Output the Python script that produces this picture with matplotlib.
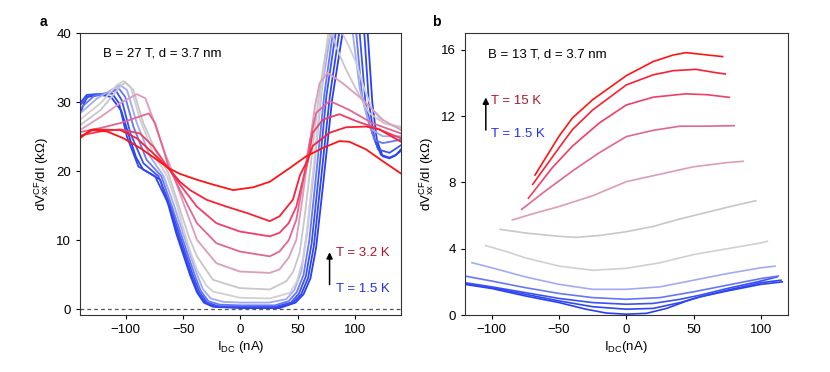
import numpy as np
import matplotlib
matplotlib.use("Agg")
import matplotlib.pyplot as plt

plt.rcParams['font.family'] = ['Liberation Sans', 'DejaVu Sans']
plt.rcParams['mathtext.fontset'] = 'custom'
plt.rcParams['mathtext.rm'] = 'Liberation Sans'
plt.rcParams['mathtext.it'] = 'Liberation Sans:italic'

# ---- panel a: B = 27 T, curves from T = 1.5 K (a0) to T = 3.2 K (a11)
a0_x = [-140, -134, -122, -113, -104, -97, -91, -85, -76, -70, -63, -56, -50, -44, -38, -32, -24, 0,
        34, 48, 55, 61, 66, 72, 80, 89, 96, 105, 111, 115, 119, 124, 130, 135, 140]
a0_y = [28.4, 30.8, 31.1, 30.8, 28.8, 25.0, 22.0, 20.3, 19.4, 18.8, 15.2, 11.0, 8.0, 5.0, 2.5, 1.0, 0.4, 0.2,
        0.2, 1.0, 2.2, 4.5, 9.0, 18.0, 30.5, 40.0, 48, 48, 40.0, 30.0, 24.5, 22.2, 21.9, 22.3, 23.0]
a1_x = [-140, -134, -119.5, -112, -106, -99, -89, -74.5, -62, -55, -49, -43, -37, -30, -22, 0,
        32, 46, 53, 59, 64, 70, 78, 86, 93, 102, 108, 112, 117, 122.6, 130, 135.6, 140]
a1_y = [29.9, 31.1, 31.2, 31.3, 29.9, 25.0, 20.7, 19.3, 15.0, 11.0, 8.0, 5.0, 2.4, 0.9, 0.4, 0.3,
        0.3, 1.0, 2.2, 4.6, 9.2, 18.5, 31.0, 40.0, 48, 48, 40.0, 30.0, 24.6, 22.4, 22.0, 22.4, 23.2]
a2_x = [-140, -131, -116.5, -109, -103.5, -96, -84.7, -71.6, -61, -54, -48, -42, -36, -29, -20, 0,
        30, 44, 51, 57, 62, 68, 75, 83, 90, 98, 104, 109, 115, 120, 130, 140]
a2_y = [29.6, 31.1, 31.3, 31.8, 30.3, 25.5, 21.2, 19.3, 15.0, 11.2, 8.2, 5.2, 2.6, 1.0, 0.5, 0.4,
        0.4, 1.0, 2.3, 4.8, 9.5, 19.0, 31.0, 40.0, 48, 48, 40.0, 30.0, 25.6, 23.2, 22.7, 23.8]
a3_x = [-140, -128, -113.7, -106, -100.6, -93.4, -82, -69, -60, -53, -47, -41, -35, -28, -18, 0,
        30, 42, 49, 55, 60, 66, 73, 80.5, 88, 95, 101, 106, 112, 117, 124, 140]
a3_y = [29.1, 30.9, 31.5, 32.0, 30.8, 26.5, 21.7, 19.3, 15.0, 11.5, 8.5, 5.5, 2.8, 1.2, 0.7, 0.6,
        0.6, 1.2, 2.5, 5.0, 10.0, 19.5, 31.0, 40.0, 48, 47, 40.0, 31.0, 27.0, 24.6, 24.1, 24.6]
a4_x = [-140, -125, -110.7, -105, -99, -90.4, -79, -67, -58.6, -52, -46, -40, -33, -26, -15, 0,
        25, 40, 47, 53, 58, 64, 71, 78.5, 85, 92, 98, 104, 109.5, 115, 124, 140]
a4_y = [28.4, 30.6, 32.0, 32.5, 31.8, 27.0, 22.2, 19.3, 15.4, 12.0, 9.0, 6.0, 3.0, 1.6, 1.1, 1.0,
        1.0, 1.5, 2.8, 5.5, 11.0, 20.0, 32.0, 40.0, 46, 45, 40.0, 32.0, 28.5, 26.0, 25.1, 25.1]
a5_x = [-140, -122, -108, -102, -96, -87.6, -76, -64, -55.6, -50, -44, -38, -30, -24, -0.6,
        25.5, 43, 49, 54.4, 58, 64, 70, 76, 82, 89, 95, 101, 108, 115, 125, 140]
a5_y = [27.5, 29.9, 32.5, 33.1, 32.3, 27.5, 22.6, 19.3, 15.2, 11.8, 8.5, 5.8, 3.5, 2.6, 1.7,
        1.6, 2.4, 4.0, 7.2, 11.5, 21.0, 31.0, 39.5, 44.0, 40.0, 38.0, 35.7, 32.0, 29.0, 27.0, 26.5]
a6_x = [-140, -122, -105, -100.6, -93.4, -84.7, -73, -63, -52.8, -45, -38, -24, -0.6,
        25.5, 40, 46, 51.6, 56, 62, 68, 74, 79, 83.5, 90, 98, 112, 125, 140]
a6_y = [26.7, 28.9, 32.3, 32.9, 31.8, 27.0, 22.6, 19.75, 14.5, 10.5, 7.7, 4.3, 3.1,
        2.9, 4.1, 5.5, 8.2, 13.5, 22.0, 30.5, 37.0, 40.5, 38.1, 35.5, 32.8, 28.5, 27.0, 26.3]
a7_x = [-140, -122, -105, -90.4, -83, -76, -67, -60, -50, -38, -21, -0.6,
        25.5, 34, 42, 48.7, 54, 60, 65, 69, 76, 89, 106.6, 124, 140]
a7_y = [26.0, 27.9, 29.9, 31.2, 30.6, 27.5, 23.1, 20.2, 15.5, 10.1, 6.7, 5.5,
        5.3, 5.8, 7.5, 10.1, 16.0, 23.5, 29.5, 32.8, 34.3, 32.8, 30.4, 27.5, 26.0]
a8_x = [-140, -122, -105, -89, -80, -74.5, -67, -63, -52.8, -38, -21, -0.6,
        25.5, 34, 42, 48.7, 54, 60, 66, 77.7, 86, 95, 115, 140]
a8_y = [25.7, 26.3, 27.0, 27.9, 28.4, 27.0, 23.1, 20.8, 17.3, 12.5, 9.6, 8.4,
        7.7, 8.4, 10.0, 13.0, 18.0, 24.0, 28.5, 30.2, 29.6, 28.9, 27.0, 25.5]
a9_x = [-140, -122, -105, -87.6, -76, -63, -52.8, -38, -21, -0.6,
        25.5, 34, 42, 48.7, 54, 58.8, 63, 71.8, 86.3, 100.9, 118, 140]
a9_y = [25.2, 25.8, 26.1, 25.5, 23.6, 20.5, 18.1, 14.9, 12.5, 11.3,
        10.6, 11.1, 12.5, 14.9, 18.5, 21.5, 25.6, 27.5, 28.3, 27.3, 26.3, 24.8]
a10_x = [-140, -128, -105, -90.4, -76, -63, -52.8, -44, -29.6, -12.2, 5.2,
         25.5, 34, 45.7, 52, 58.8, 63, 77.7, 92, 109.5, 121, 140]
a10_y = [25.0, 26.1, 26.0, 24.8, 22.6, 20.5, 18.5, 17.3, 15.9, 14.9, 14.0,
         12.8, 13.5, 15.9, 19.5, 21.7, 23.7, 25.6, 26.4, 26.5, 26.1, 24.3]
a11_x = [-140, -131, -116.5, -102, -87.6, -73, -63, -52.8, -38, -24, -6.4,
         11, 25.5, 43, 57.4, 71.8, 86.3, 95, 109.5, 124, 140]
a11_y = [24.8, 26.0, 25.8, 24.8, 23.4, 21.7, 20.5, 19.65, 18.8, 18.1, 17.3,
         17.7, 18.5, 20.5, 22.2, 23.4, 24.4, 24.3, 23.2, 21.5, 19.7]

# ---- panel b: B = 13 T, curves from T = 1.5 K (b0) to T = 15 K (b11)
b0_x = [-120, -100, -75, -50, -30, -15, 0, 15, 30, 45, 55, 75, 100, 116]
b0_y = [1.85, 1.6, 1.15, 0.75, 0.35, 0.12, 0.05, 0.1, 0.4, 0.85, 1.1, 1.45, 1.85, 2.0]
b1_x = [-120, -100, -75, -50, -25, 0, 20, 40, 55, 75, 100, 115]
b1_y = [1.9, 1.65, 1.25, 0.85, 0.5, 0.35, 0.4, 0.75, 1.1, 1.5, 1.95, 2.1]
b2_x = [-120, -100, -75, -50, -25, 0, 20, 40, 55, 75, 100, 112]
b2_y = [1.95, 1.7, 1.35, 1.0, 0.75, 0.65, 0.7, 0.95, 1.2, 1.6, 2.05, 2.3]
b3_x = [-120, -100, -75, -50, -25, 0, 25, 50, 75, 100, 113]
b3_y = [2.35, 2.05, 1.65, 1.3, 1.05, 0.95, 1.05, 1.4, 1.8, 2.2, 2.35]
b4_x = [-114.8, -100, -75, -50, -25, 0, 25, 50, 75, 100, 110.6]
b4_y = [3.16, 2.85, 2.3, 1.85, 1.55, 1.55, 1.7, 2.1, 2.5, 2.85, 2.95]
b5_x = [-104.5, -90, -75, -50, -25, 0, 25, 50, 75, 100, 104.9]
b5_y = [4.19, 3.85, 3.45, 2.95, 2.7, 2.82, 3.15, 3.65, 4.0, 4.35, 4.45]
b6_x = [-93.8, -75, -50, -37, -20, 0, 20, 40, 60, 80, 96.3]
b6_y = [5.17, 4.95, 4.75, 4.69, 4.8, 5.03, 5.35, 5.8, 6.2, 6.6, 6.9]
b7_x = [-84.7, -70, -50, -25, 0, 25, 50, 75, 86.9]
b7_y = [5.74, 6.1, 6.55, 7.2, 8.05, 8.5, 8.95, 9.2, 9.28]
b8_x = [-77.8, -60, -40, -20, 0, 20, 40, 60, 80.2]
b8_y = [6.38, 7.5, 8.7, 9.8, 10.77, 11.15, 11.4, 11.4, 11.43]
b9_x = [-72.8, -55, -40, -20, 0, 20, 44, 60, 76.5]
b9_y = [7.05, 8.9, 10.2, 11.6, 12.68, 13.15, 13.35, 13.3, 13.14]
b10_x = [-69.6, -50, -40, -25, 0, 20, 35, 51.8, 65, 73.6]
b10_y = [7.89, 10.1, 11.2, 12.38, 13.89, 14.5, 14.75, 14.83, 14.65, 14.55]
b11_x = [-67.9, -50, -40, -25, 0, 20, 35, 44.4, 60, 71.6]
b11_y = [8.45, 10.8, 11.9, 13.0, 14.45, 15.3, 15.7, 15.84, 15.7, 15.6]

a_curves = [(a0_x, a0_y), (a1_x, a1_y), (a2_x, a2_y), (a3_x, a3_y), (a4_x, a4_y), (a5_x, a5_y),
            (a6_x, a6_y), (a7_x, a7_y), (a8_x, a8_y), (a9_x, a9_y), (a10_x, a10_y), (a11_x, a11_y)]
b_curves = [(b0_x, b0_y), (b1_x, b1_y), (b2_x, b2_y), (b3_x, b3_y), (b4_x, b4_y), (b5_x, b5_y),
            (b6_x, b6_y), (b7_x, b7_y), (b8_x, b8_y), (b9_x, b9_y), (b10_x, b10_y), (b11_x, b11_y)]

# blue (cold) -> grey -> pink -> red (hot)
T_COLORS = ['#2a40f0', '#2f46f2', '#3a52f4', '#6677f6', '#a2aaf6', '#d0d0d2',
            '#c9c6c9', '#dc9cba', '#e2668f', '#f03e66', '#fa2034', '#ff1414']

RED_TXT = '#b3142c'
BLUE_TXT = '#2230ee'
YLABEL = r'dV$_{\mathrm{xx}}^{\mathrm{CF}}$/dI (k$\Omega$)'


def style_axes(ax):
    for sp in ax.spines.values():
        sp.set_linewidth(0.8)
        sp.set_color('#333333')
    ax.tick_params(direction='out', length=3, width=0.8, labelsize=9.5, top=False, right=False)


fig = plt.figure(figsize=(8.3, 3.72), dpi=100)
axa = fig.add_axes([0.0964, 0.1532, 0.3867, 0.757])
axb = fig.add_axes([0.5602, 0.1532, 0.3888, 0.757])

for (xs, ys), c in zip(a_curves, T_COLORS):
    axa.plot(xs, ys, color=c, lw=1.3)
axa.axhline(0, color='#555555', lw=0.9, ls=(0, (3, 2.5)))
axa.set_xlim(-140, 140)
axa.set_ylim(-0.8, 40)
axa.set_xticks([-100, -50, 0, 50, 100])
axa.set_yticks([0, 10, 20, 30, 40])
axa.set_xticklabels(['\u2212100', '\u221250', '0', '50', '100'])
axa.set_xlabel(r'I$_{\mathrm{DC}}$ (nA)', fontsize=9.5, labelpad=2)
axa.set_ylabel(YLABEL, fontsize=9.5, labelpad=4)
axa.text(-120, 37.1, 'B = 27 T, d = 3.7 nm', fontsize=9.5, va='center')
axa.annotate('', xy=(77.7, 8.7), xytext=(77.7, 3.2),
             arrowprops=dict(arrowstyle='-|>', color='k', lw=1.1, mutation_scale=9))
axa.text(83.5, 8.2, 'T = 3.2 K', color=RED_TXT, fontsize=9.5, va='center')
axa.text(83.5, 2.9, 'T = 1.5 K', color=BLUE_TXT, fontsize=9.5, va='center')
style_axes(axa)

for (xs, ys), c in zip(b_curves, T_COLORS):
    axb.plot(xs, ys, color=c, lw=1.2)
axb.set_xlim(-120, 120)
axb.set_ylim(0, 17)
axb.set_xticks([-100, -50, 0, 50, 100])
axb.set_yticks([0, 4, 8, 12, 16])
axb.set_xticklabels(['\u2212100', '\u221250', '0', '50', '100'])
axb.set_xlabel(r'I$_{\mathrm{DC}}$(nA)', fontsize=9.5, labelpad=2)
axb.set_ylabel(YLABEL, fontsize=9.5, labelpad=4)
axb.text(-103, 15.7, 'B = 13 T, d = 3.7 nm', fontsize=9.5, va='center')
axb.annotate('', xy=(-104.5, 13.3), xytext=(-104.5, 11.0),
             arrowprops=dict(arrowstyle='-|>', color='k', lw=1.1, mutation_scale=9))
axb.text(-100.7, 12.94, 'T = 15 K', color=RED_TXT, fontsize=9.5, va='center')
axb.text(-100.7, 10.93, 'T = 1.5 K', color=BLUE_TXT, fontsize=9.5, va='center')
style_axes(axb)

fig.text(0.048, 0.941, 'a', fontsize=10, fontweight='bold', va='center')
fig.text(0.520, 0.941, 'b', fontsize=10, fontweight='bold', va='center')

fig.savefig('out.png', dpi=100)
